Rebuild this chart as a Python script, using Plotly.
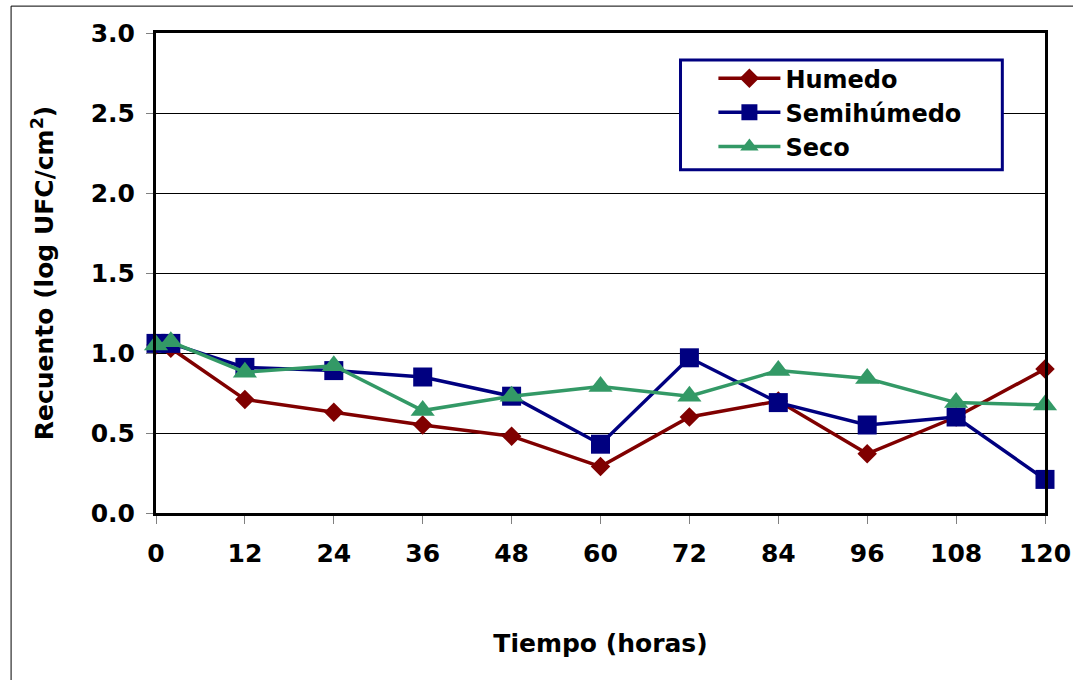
import plotly.graph_objects as go

# Sampling times (hours)
tiempo = [0, 2, 12, 24, 36, 48, 60, 72, 84, 96, 108, 120]

# Counts (log UFC/cm2) per condition
humedo = [1.05, 1.03, 0.71, 0.63, 0.55, 0.48, 0.29, 0.60, 0.70, 0.37, 0.60, 0.90]
semihumedo = [1.06, 1.06, 0.91, 0.89, 0.85, 0.73, 0.43, 0.97, 0.69, 0.55, 0.60, 0.21]
seco = [1.05, 1.07, 0.88, 0.92, 0.64, 0.73, 0.79, 0.73, 0.89, 0.84, 0.69, 0.675]

x_ticks = [0, 12, 24, 36, 48, 60, 72, 84, 96, 108, 120]
y_ticks = [0.0, 0.5, 1.0, 1.5, 2.0, 2.5, 3.0]

FONT = "DejaVu Sans, Liberation Sans, Arial, sans-serif"
FS = 25

series = [
    ("Humedo", humedo, "#800000", "diamond", 15),
    ("Semihúmedo", semihumedo, "#000080", "square", 19),
    ("Seco", seco, "#339966", "triangle-up", 21),
]

fig = go.Figure()
for name, vals, color, symbol, size in series:
    fig.add_trace(go.Scatter(
        x=tiempo, y=vals, name=name, mode="lines+markers",
        line=dict(color=color, width=3.5),
        marker=dict(symbol=symbol, size=size, color=color),
        cliponaxis=False,
    ))

fig.update_layout(
    width=1073, height=680,
    margin=dict(l=156, r=28, t=33, b=167, autoexpand=False),
    paper_bgcolor="white", plot_bgcolor="white",
    font=dict(family=FONT, color="black", size=FS, weight="bold"),
    showlegend=True,
    legend=dict(
        x=0.627, y=0.952, xanchor="left", yanchor="top",
        borderwidth=0, bgcolor="rgba(0,0,0,0)",
        font=dict(family=FONT, size=24, weight="bold"),
        tracegroupgap=0, itemwidth=62,
    ),
    shapes=[
        # outer frame of the chart
        dict(type="rect", xref="paper", yref="paper",
             x0=-0.163, y0=-0.4, x1=1.1, y1=1.056,
             line=dict(color="black", width=1), layer="below"),
        # legend box
        dict(type="rect", xref="paper", yref="paper",
             x0=0.590, y0=0.715, x1=0.952, y1=0.944,
             line=dict(color="#000080", width=3), fillcolor="white", layer="above"),
    ],
)

fig.update_xaxes(
    range=[0, 120], tickvals=x_ticks, ticktext=[str(v) for v in x_ticks],
    showline=True, linecolor="black", linewidth=3, mirror=True,
    ticks="outside", ticklen=8, tickcolor="#808080", tickwidth=1,
    ticklabelstandoff=8, automargin=False,
    showgrid=False, zeroline=False,
    tickfont=dict(size=FS, weight="bold"),
    title=dict(text="Tiempo (horas)", font=dict(size=FS, weight="bold"), standoff=68),
)
fig.update_yaxes(
    range=[0, 3], tickvals=y_ticks, ticktext=[f"{v:.1f}" for v in y_ticks],
    showline=True, linecolor="black", linewidth=3, mirror=True,
    ticks="outside", ticklen=7, tickcolor="#808080", tickwidth=1,
    ticklabelstandoff=6, automargin=False,
    showgrid=True, gridcolor="black", gridwidth=1, zeroline=False,
    tickfont=dict(size=FS, weight="bold"),
    title=dict(text="Recuento (log UFC/cm<sup>2</sup>)", font=dict(size=FS, weight="bold"), standoff=30),
)

fig.write_html("out.html")
